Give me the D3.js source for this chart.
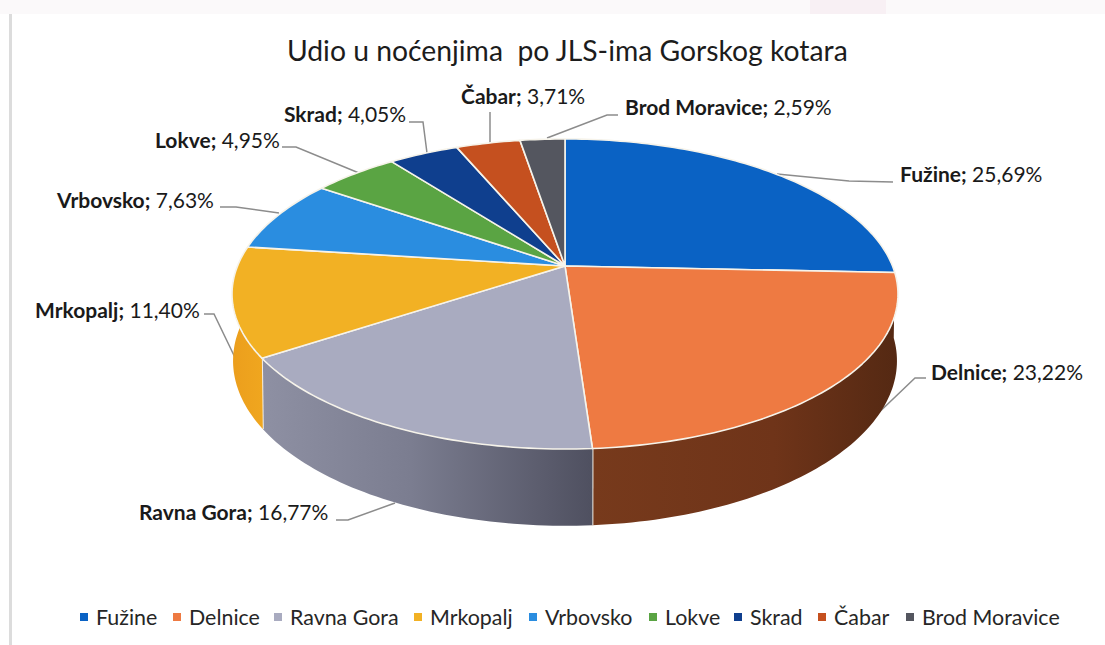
<!DOCTYPE html>
<html>
<head>
<meta charset="utf-8">
<script src="https://cdn.jsdelivr.net/npm/d3@7"></script>
<style>
  html, body { margin: 0; padding: 0; background: #fff; }
  svg { display: block; font-family: Lato, sans-serif; }
</style>
</head>
<body>
<script>
'use strict';

// data
const categories = ["Fužine", "Delnice", "Ravna Gora", "Mrkopalj", "Vrbovsko", "Lokve", "Skrad", "Čabar", "Brod Moravice"];
const shares = [25.69, 23.22, 16.77, 11.40, 7.63, 4.95, 4.05, 3.71, 2.59];
const titleText = "Udio u noćenjima  po JLS-ima Gorskog kotara";

const sliceColors = ["#0a62c4", "#ee7a42", "#a9abc0", "#f2b124", "#2a8de0", "#5aa443", "#0f3f8e", "#c5501f", "#54565f"];

// label layout: text start + baseline, then leader line points
const labelLayout = [
  { x: 900, y: 182, line: [[893, 182], [849, 181], [777, 174]] },
  { x: 931, y: 380, line: [[926, 378], [915, 378], [848, 442]] },
  { x: 139, y: 520, line: [[336, 520], [348, 520], [395, 503]] },
  { x: 35,  y: 318, line: [[204, 314], [214, 314], [241, 370]] },
  { x: 57,  y: 208, line: [[220, 207], [236, 207], [279, 213]] },
  { x: 155, y: 148, line: [[282, 147], [296, 147], [359, 173]] },
  { x: 284, y: 122, line: [[409, 122], [423, 122], [427, 153]] },
  { x: 461, y: 104, line: [[490, 112], [490, 143]] },
  { x: 625, y: 115, line: [[618, 115], [607, 115], [547, 138]] }
];
const legendX = [96, 189, 290, 430, 545, 665, 750, 834, 922];

const svg = d3.select('body').append('svg')
  .attr('width', 1105)
  .attr('height', 645);

// scanned page: faint band on top and grey rule at the left
svg.append('rect').attr('width', 1105).attr('height', 14).attr('fill', '#fbf9fa');
svg.append('rect').attr('x', 810).attr('width', 76).attr('height', 14).attr('fill', '#f8f0f4');
svg.append('rect').attr('x', 9).attr('y', 14).attr('width', 3).attr('height', 631).attr('fill', '#dcdcdc');

// tilted disc projection, near edge looks bigger than the far edge
const tilt = 0.1806;
const topDisc = { cx: 565, cy: 266, a: 327.5, b: 150 };
const bottomDisc = { cx: 565, cy: 331, a: 326.5, b: 159.6 };

function project(disc, angle) {
  const X = Math.sin(angle);
  const Y = -Math.cos(angle);
  const w = 1 - tilt * Y;
  return [disc.cx + disc.a * X / w, disc.cy + disc.b * Y / w];
}

function arcPoints(disc, from, to) {
  const n = Math.max(2, Math.ceil((to - from) / 0.02));
  return d3.range(n + 1).map((i) => project(disc, from + (to - from) * i / n));
}

const line = d3.line();
const slices = d3.pie().sort(null).value((d) => d)(shares);

// wall shading, gets darker to the right
const defs = svg.append('defs');
function wallGradient(id, stops, x1, x2) {
  const g = defs.append('linearGradient').attr('id', id)
    .attr('gradientUnits', 'userSpaceOnUse')
    .attr('x1', x1).attr('x2', x2).attr('y1', 0).attr('y2', 0);
  stops.forEach((s) => g.append('stop').attr('offset', s[0]).attr('stop-color', s[1]));
}
wallGradient('wall1', [[0, '#773a1c'], [0.6, '#6f3419'], [1, '#552913']], 592, 895);
wallGradient('wall2', [[0, '#8e90a3'], [0.45, '#7b7d90'], [1, '#4f5060']], 262, 592);
wallGradient('wall3', [[0, '#ec9f1d'], [1, '#f0a71f']], 235, 265);

// leader lines go under the pie
svg.append('g').selectAll('path')
  .data(labelLayout)
  .enter()
  .append('path')
  .attr('d', (d) => line(d.line))
  .attr('fill', 'none')
  .attr('stroke', '#8c8c8c')
  .attr('stroke-width', 1.5);

// side walls: only Delnice, Ravna Gora and Mrkopalj face the viewer
const walls = svg.append('g');
[1, 2, 3].forEach((i) => {
  const s = slices[i];
  const pts = arcPoints(topDisc, s.startAngle, s.endAngle)
    .concat(arcPoints(bottomDisc, s.startAngle, s.endAngle).reverse());
  walls.append('path')
    .attr('d', line(pts) + 'Z')
    .attr('fill', 'url(#wall' + i + ')');
  // light seam at the end of the wall
  walls.append('path')
    .attr('d', line([project(topDisc, s.endAngle), project(bottomDisc, s.endAngle)]))
    .attr('stroke', '#f3efe6')
    .attr('stroke-width', i === 3 ? 0 : 2);
});

// top face
svg.append('g').selectAll('path')
  .data(slices)
  .enter()
  .append('path')
  .attr('d', (d) => line([[topDisc.cx, topDisc.cy]].concat(arcPoints(topDisc, d.startAngle, d.endAngle))) + 'Z')
  .attr('fill', (d, i) => sliceColors[i])
  .attr('stroke', '#f6f3ea')
  .attr('stroke-width', 1.6)
  .attr('stroke-linejoin', 'round');

// title
svg.append('text')
  .attr('x', 287)
  .attr('y', 61)
  .attr('xml:space', 'preserve')
  .style('white-space', 'pre')
  .style('font-size', '28.3px')
  .attr('fill', '#1c1c1c')
  .text(titleText);

// data labels: bold name; value
const pct = d3.formatLocale({ decimal: ",", thousands: ".", grouping: [3], currency: ["", ""] }).format(".2f");
const labels = svg.append('g').selectAll('text')
  .data(categories)
  .enter()
  .append('text')
  .attr('x', (d, i) => labelLayout[i].x)
  .attr('y', (d, i) => labelLayout[i].y)
  .style('font-size', '21px')
  .attr('fill', '#1a1a1a');
labels.append('tspan').style('font-weight', 700).text((d) => d);
labels.append('tspan').style('font-weight', 700).text(';');
labels.append('tspan').text((d, i) => ' ' + pct(shares[i]) + '%');

// legend
const legend = svg.append('g').selectAll('g')
  .data(categories)
  .enter()
  .append('g')
  .attr('transform', (d, i) => 'translate(' + legendX[i] + ',617)');
legend.append('rect')
  .attr('x', -16)
  .attr('y', -4)
  .attr('width', 8)
  .attr('height', 8)
  .attr('fill', (d, i) => sliceColors[i]);
legend.append('text')
  .attr('y', 8)
  .style('font-size', '21.4px')
  .attr('fill', '#262626')
  .text((d) => d);
</script>
</body>
</html>
